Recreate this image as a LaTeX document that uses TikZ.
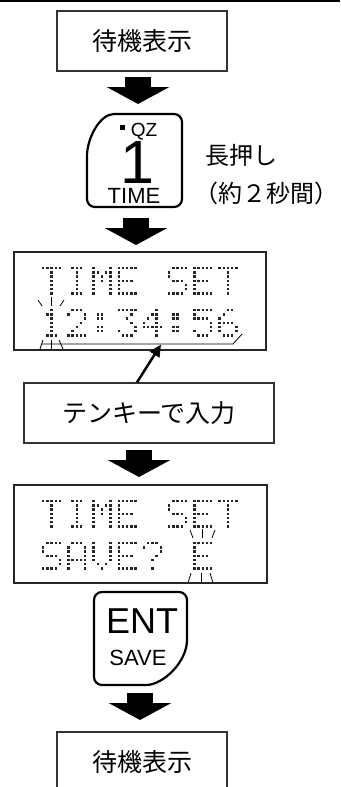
\documentclass[tikz,border=0pt]{standalone}
\usepackage{fontspec}
\setmainfont{Liberation Sans}
\newfontfamily\jp{Noto Sans CJK JP}
\usetikzlibrary{arrows.meta}

\def\dmpitch{4.2}
\def\dmsize{2.3}
\def\dmT{31,4,4,4,4,4,4}
\def\dmI{14,4,4,4,4,4,14}
\def\dmM{17,27,21,21,17,17,17}
\def\dmE{31,16,16,30,16,16,31}
\def\dmS{15,16,16,14,1,1,30}
\def\dmA{14,17,17,17,31,17,17}
\def\dmV{17,17,17,17,17,10,4}
\def\dmQ{14,17,1,2,4,0,4}
\def\dmOne{4,12,4,4,4,4,14}
\def\dmTwo{14,17,1,2,4,8,31}
\def\dmThree{31,2,4,2,1,17,14}
\def\dmFour{2,6,10,18,31,2,2}
\def\dmFive{31,16,30,1,1,17,14}
\def\dmSix{6,8,16,30,17,17,14}
\def\dmCol{0,12,12,0,12,12,0}

\newcommand\dmchar[3]{%
  \foreach \rv [count=\ri from 0] in #3 {%
    \foreach \ci in {0,...,4} {%
      \pgfmathtruncatemacro\dmbit{mod(floor(\rv/2^(4-\ci)),2)}%
      \ifnum\dmbit=1 \fill[black!85] (#1+\ci*\dmpitch, #2+\ri*\dmpitch) rectangle ++(\dmsize,\dmsize);\fi
    }}}

\begin{document}
\begin{tikzpicture}[x=1pt,y=-1pt,
  box/.style={draw=black!80, line width=1.4pt, inner sep=0pt, font=\jp\fontsize{25}{25}\selectfont},
  lcd/.style={draw=black!85, line width=2pt, inner sep=0pt},
  fat/.style={line width=26pt, -{Triangle[length=17pt,width=62pt]}},
  keyline/.style={line width=2.2pt, rounded corners=8pt},
  flash/.style={line width=0.8pt},
  side/.style={inner sep=0pt, anchor=west, font=\jp\fontsize{24}{24}\selectfont},
  txt/.style={inner sep=0pt, anchor=base}]
\useasboundingbox (0,0) rectangle (340,787);

% top rule
\draw[line width=2pt] (0,1) -- (340,1);

% box 1
\node[box, minimum width=170pt, minimum height=60pt] (b1) at (142,41) {待機表示};

% arrow 1
\coordinate (a1s) at (138,77);
\coordinate (a1e) at (138,104);
\draw[fat] (a1s) -- (a1e);

% TIME key
\draw[keyline] (122,114) .. controls (100,114) and (87,138) .. (87,164) -- (87,207) -- (182,207) -- (182,114) -- cycle;
\fill (119.5,124.5) rectangle (125,130);
\node[txt, font=\fontsize{19}{19}\selectfont] (kqz) at (144,136) {QZ};
\node[txt, font=\fontsize{61}{61}\selectfont] (kone) at (137,183) {1};
\node[txt, font=\fontsize{22}{22}\selectfont] (ktime) at (134,203) {TIME};

\node[side] (lp) at (205,155) {長押し};
\node[side] (sec) at (194,193) {（約２秒間）};

% arrow 2
\coordinate (a2s) at (136,218);
\coordinate (a2e) at (136,245);
\draw[fat] (a2s) -- (a2e);

% LCD 1
\node[lcd, minimum width=252pt, minimum height=98pt] (lcd1) at (140,301) {};
\dmchar{42}{267}{\dmT}
\dmchar{67.2}{267}{\dmI}
\dmchar{92.4}{267}{\dmM}
\dmchar{117.6}{267}{\dmE}
\dmchar{168}{267}{\dmS}
\dmchar{193.2}{267}{\dmE}
\dmchar{218.4}{267}{\dmT}
\dmchar{42}{309}{\dmOne}
\dmchar{67.2}{309}{\dmTwo}
\dmchar{92.4}{309}{\dmCol}
\dmchar{117.6}{309}{\dmThree}
\dmchar{142.8}{309}{\dmFour}
\dmchar{168}{309}{\dmCol}
\dmchar{193.2}{309}{\dmFive}
\dmchar{218.4}{309}{\dmSix}
\coordinate (ul0) at (42,344);
\coordinate (ul1) at (233,344);
\coordinate (ul2) at (242,334);
\coordinate (ulm) at (161,344.5);
\draw[line width=0.8pt] (ul0) -- (ul1) -- (ul2);
\draw[flash] (38,300) -- (42,306);
\draw[flash] (51,297) -- (51,306);
\draw[flash] (64,300) -- (60,306);
\draw[flash] (40,349) -- (43,340);
\draw[flash] (51,340) -- (51,349);
\draw[flash] (59,340) -- (63,349);

% box 2
\node[box, minimum width=250pt, minimum height=60pt] (b2) at (149,413) {テンキーで入力};
\draw[line width=2.5pt, -{Triangle[length=12pt,width=11pt]}] ([xshift=-12pt]b2.north) -- (ulm);

% arrow 3
\coordinate (a3s) at (139,450);
\coordinate (a3e) at (139,477);
\draw[fat] (a3s) -- (a3e);

% LCD 2
\node[lcd, minimum width=253pt, minimum height=98pt] (lcd2) at (140.5,534) {};
\dmchar{42}{500}{\dmT}
\dmchar{67.2}{500}{\dmI}
\dmchar{92.4}{500}{\dmM}
\dmchar{117.6}{500}{\dmE}
\dmchar{168}{500}{\dmS}
\dmchar{193.2}{500}{\dmE}
\dmchar{218.4}{500}{\dmT}
\dmchar{42}{542}{\dmS}
\dmchar{67.2}{542}{\dmA}
\dmchar{92.4}{542}{\dmV}
\dmchar{117.6}{542}{\dmE}
\dmchar{142.8}{542}{\dmQ}
\dmchar{193.2}{542}{\dmE}
\draw[flash] (190,530) -- (193,538);
\draw[flash] (202,529) -- (202,538);
\draw[flash] (215,530) -- (212,538);
\draw[flash] (188,583) -- (191,573);
\draw[flash] (201,573) -- (201,583);
\draw[flash] (210,573) -- (213,583);

% ENT key
\draw[keyline] (138,685) .. controls (163,685) and (187,662) .. (187,632) -- (187,592) -- (94,592) -- (94,685) -- cycle;
\node[txt, font=\fontsize{36}{36}\selectfont] (kent) at (142,633) {ENT};
\node[txt, font=\fontsize{22}{22}\selectfont] (ksave) at (138,665) {SAVE};

% arrow 4
\coordinate (a4s) at (140,693);
\coordinate (a4e) at (140,720);
\draw[fat] (a4s) -- (a4e);

% box 3
\node[box, minimum width=170pt, minimum height=60pt] (b3) at (142,762) {待機表示};
\end{tikzpicture}
\end{document}
